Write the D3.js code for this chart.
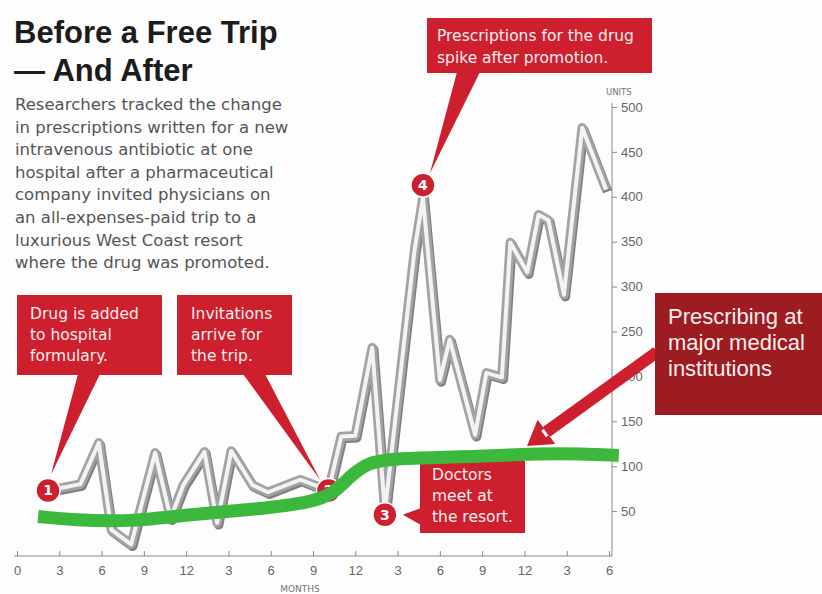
<!DOCTYPE html>
<html>
<head>
<meta charset="utf-8">
<script src="https://cdn.jsdelivr.net/npm/d3@7"></script>
<style>
  body { margin: 0; background: #fff; }
  svg { display: block; font-family: "DejaVu Sans", sans-serif; }
</style>
</head>
<body>
<div id="chart"></div>
<script>
// prescriptions at the hospital (gray line)
const months = [2.2, 4.5, 5.8, 6.7, 8.1, 9.8, 10.9, 11.8, 13.3, 14.2, 15.2, 16.7, 17.8, 20.1, 22.1,
  23.0, 24.0, 25.2, 26.1, 28.2, 28.8, 30.0, 30.7, 32.5, 33.3, 34.4, 35.0, 36.2, 37.0, 37.7, 38.8, 40.1, 41.8];
const units = [73, 80, 126, 29, 13, 115, 42, 79, 116, 37, 117, 79, 71, 85, 73,
  133, 134, 232, 50, 340, 399, 196, 241, 135, 204, 199, 349, 316, 380, 374, 291, 477, 408];

// prescribing at major medical institutions (green line)
const trendMonths = [1.5, 4, 8, 12, 17, 21, 22.5, 23.7, 25, 27, 33, 37, 40, 42.7];
const trendUnits = [44, 40, 38, 46, 52, 60, 70, 90, 105, 109, 111, 114, 114, 112];

// numbered markers
const markerNums = ["1", "2", "3", "4"];
const markerMonths = [2.2, 22.1, 26.1, 28.8];
const markerUnits = [73, 73, 46, 413];

const xTicks = [0, 3, 6, 9, 12, 15, 18, 21, 24, 27, 30, 33, 36, 39, 42];
const xTickLabels = ["0", "3", "6", "9", "12", "3", "6", "9", "12", "3", "6", "9", "12", "3", "6"];
const yTicks = [50, 100, 150, 200, 250, 300, 350, 400, 450, 500];

const titleLines = ["Before a Free Trip", "\u2014 And After"];
const introLines = [
  "Researchers tracked the change",
  "in prescriptions written for a new",
  "intravenous antibiotic at one",
  "hospital after a pharmaceutical",
  "company invited physicians on",
  "an all-expenses-paid trip to a",
  "luxurious West Coast resort",
  "where the drug was promoted."
];
const note1 = ["Drug is added", "to hospital", "formulary."];
const note2 = ["Invitations", "arrive for", "the trip."];
const note3 = ["Doctors", "meet at", "the resort."];
const note4 = ["Prescriptions for the drug", "spike after promotion."];
const noteMajor = ["Prescribing at", "major medical", "institutions"];

const W = 822, H = 594;
const RED = "#cd1f2d", DARKRED = "#9d1c22", GREEN = "#3cb93c";

const svg = d3.select("#chart").append("svg").attr("width", W).attr("height", H);
svg.append("rect").attr("width", W).attr("height", H).attr("fill", "#fdfdfd");

const x = d3.scaleLinear().domain([0, 42]).range([17, 609]);
const y = d3.scaleLinear().domain([0, 500]).range([556, 107]);

// title + intro
svg.append("g").selectAll("text").data(titleLines).join("text")
  .attr("x", 14).attr("y", (d, i) => 43 + i * 38)
  .style("font-family", "'Liberation Sans', Arial, sans-serif")
  .style("font-weight", "bold").style("font-size", "31px")
  .attr("fill", "#1c1c1c").text(d => d);

svg.append("g").selectAll("text").data(introLines).join("text")
  .attr("x", 15).attr("y", (d, i) => 110 + i * 22.6)
  .style("font-size", "16.5px").attr("fill", "#555").text(d => d);

// axes
const xAxis = svg.append("g").attr("transform", `translate(0,${y(0)})`)
  .call(d3.axisBottom(x).tickValues(xTicks).tickSizeInner(-5).tickSizeOuter(0).tickPadding(10)
    .tickFormat((d, i) => xTickLabels[i]));
xAxis.select(".domain").attr("stroke", "#8a8a8a").attr("d", `M14,0H${x(42) + 3}`);
xAxis.selectAll(".tick line").attr("stroke", "#8a8a8a");
xAxis.selectAll("text").attr("fill", "#666").style("font-size", "13px")
  .style("font-family", "'Liberation Sans', Arial, sans-serif");

svg.append("text").attr("x", 300).attr("y", 592).attr("text-anchor", "middle")
  .style("font-size", "9px").attr("fill", "#777").text("MONTHS");

const yAxis = svg.append("g").attr("transform", `translate(${x(42) + 3},0)`)
  .call(d3.axisRight(y).tickValues(yTicks).tickSizeInner(5).tickSizeOuter(0).tickPadding(4));
yAxis.select(".domain").attr("stroke", "#8a8a8a").attr("d", `M0,${y(0)}V${y(500) - 4}`);
yAxis.selectAll(".tick line").attr("stroke", "#8a8a8a");
yAxis.selectAll("text").attr("fill", "#666").style("font-size", "13px")
  .style("font-family", "'Liberation Sans', Arial, sans-serif");

svg.append("text").attr("x", x(42) - 3).attr("y", 95)
  .style("font-size", "8.5px").attr("fill", "#777").text("UNITS");

// gray prescriptions line with shadow
const pts = months.map((m, i) => [x(m), y(units[i])]);
const line = d3.line();
svg.append("path").attr("d", line(pts)).attr("transform", "translate(1.5,2)")
  .attr("fill", "none").attr("stroke", "#4a4a4a").attr("stroke-width", 9.5)
  .attr("stroke-linejoin", "round").attr("opacity", 0.7);
svg.append("path").attr("d", line(pts))
  .attr("fill", "none").attr("stroke", "#a3a3a3").attr("stroke-width", 9.5)
  .attr("stroke-linejoin", "round");
svg.append("path").attr("d", line(pts))
  .attr("fill", "none").attr("stroke", "#f3f3f3").attr("stroke-width", 4)
  .attr("stroke-linejoin", "round");

// callouts
const marks = markerMonths.map((m, i) => ({ n: markerNums[i], cx: x(m), cy: y(markerUnits[i]) }));

function box(bx, by, bw, bh, lines, fill, tx, ty, lh, font) {
  const g = svg.append("g");
  g.append("rect").attr("x", bx).attr("y", by).attr("width", bw).attr("height", bh).attr("fill", fill);
  g.selectAll("text").data(lines).join("text")
    .attr("x", tx).attr("y", (d, i) => ty + i * lh)
    .style("font-size", font.size).style("font-family", font.family)
    .attr("fill", "#fbeeee").text(d => d);
  return g;
}
function pointer(p1, p2, tip) {
  svg.append("path").attr("d", d3.line()([p1, p2, tip]) + "Z").attr("fill", RED);
}
const dv = { size: "15.5px", family: "'DejaVu Sans', sans-serif" };

pointer([78, 374], [100, 374], [marks[0].cx + 3, marks[0].cy - 16]);
box(17, 295, 145, 80, note1, RED, 30, 319, 21, dv);

pointer([243, 374], [265, 374], [marks[1].cx - 8, marks[1].cy - 10]);
box(177, 295, 115, 80, note2, RED, 191, 319, 21, dv);

pointer([457, 72], [480, 72], [marks[3].cx + 7, marks[3].cy - 12]);
box(427, 18, 225, 55, note4, RED, 437, 41, 22, dv);

pointer([421, 508], [421, 525], [marks[2].cx + 18, marks[2].cy]);
box(420, 460, 105, 73, note3, RED, 432, 480, 21, dv);

svg.append("g").selectAll("g").data(marks).join("g")
  .attr("transform", d => `translate(${d.cx},${d.cy})`)
  .call(g => {
    g.append("circle").attr("r", 12).attr("fill", RED).attr("stroke", "#fff").attr("stroke-width", 1.5);
    g.append("text").attr("text-anchor", "middle").attr("dy", "0.36em")
      .style("font-size", "14px").style("font-weight", "bold").attr("fill", "#fff").text(d => d.n);
  });

// big arrow towards the green line
const tail = [657, 352], tip = [527, 446];
const len = Math.hypot(tail[0] - tip[0], tail[1] - tip[1]);
const u = [(tail[0] - tip[0]) / len, (tail[1] - tip[1]) / len];
const n = [u[1], -u[0]];
const hb = [tip[0] + u[0] * 24, tip[1] + u[1] * 24];
svg.append("line").attr("x1", tail[0]).attr("y1", tail[1]).attr("x2", hb[0]).attr("y2", hb[1])
  .attr("stroke", RED).attr("stroke-width", 12);
svg.append("path").attr("fill", RED).attr("d", d3.line()([
  tip, [hb[0] + n[0] * 15, hb[1] + n[1] * 15], [hb[0] - n[0] * 15, hb[1] - n[1] * 15]
]) + "Z");
svg.append("line")
  .attr("x1", hb[0] + n[0] * 4 - u[0] * 2).attr("y1", hb[1] + n[1] * 4 - u[1] * 2)
  .attr("x2", hb[0] - n[0] * 4 - u[0] * 2).attr("y2", hb[1] - n[1] * 4 - u[1] * 2)
  .attr("stroke", "#fff").attr("stroke-width", 3);

// green trend line
svg.append("path")
  .attr("d", d3.line().curve(d3.curveBasis)(trendMonths.map((m, i) => [x(m), y(trendUnits[i])])))
  .attr("fill", "none").attr("stroke", GREEN).attr("stroke-width", 13).attr("stroke-linecap", "butt");

// dark red label box
box(655, 293, 167, 122, noteMajor, DARKRED, 668, 324, 26,
  { size: "22px", family: "'Liberation Sans', Arial, sans-serif" });
</script>
</body>
</html>
